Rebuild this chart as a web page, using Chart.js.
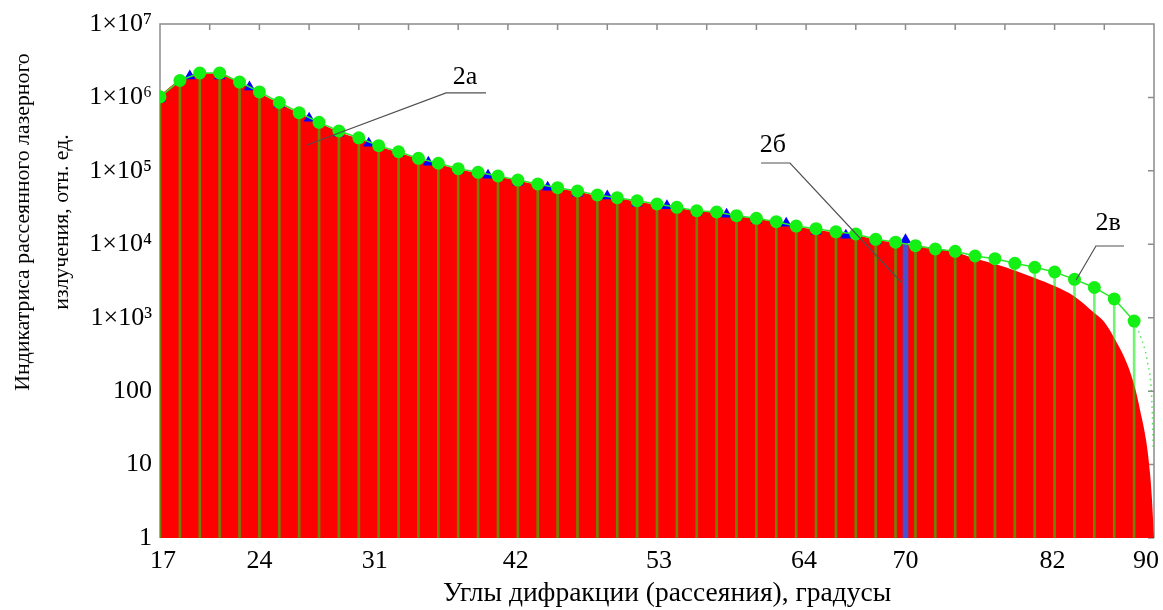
<!DOCTYPE html>
<html lang="ru">
<head>
<meta charset="utf-8">
<title>Индикатриса рассеянного лазерного излучения</title>
<script src="https://cdn.jsdelivr.net/npm/chart.js@4.4.1/dist/chart.umd.min.js"></script>
<style>
  html, body { margin: 0; padding: 0; background: #fff; }
  #wrap { width: 1163px; height: 610px; }
</style>
</head>
<body>
<div id="wrap"><canvas id="chart" width="1163" height="610"></canvas></div>
<script>
// Ось X — номер отсчёта 0..50, подписи углов стоят там же, где на исходном рисунке
let tickPos = [0.15, 5, 10.8, 17.9, 25.1, 32.4, 37.5, 44.9, 49.6]
let tickLabels = ['17', '24', '31', '42', '53', '64', '70', '82', '90']

let yTicks = [1, 10, 100, 1e3, 1e4, 1e5, 1e6, 1e7]
let yLabels = ['1', '10', '100', '1×10³', '1×10⁴', '1×10⁵', '1×10⁶', '1×10⁷']

// кривая 2в — зелёные точки (отсчёты 0..49)
let greenY = [1020000, 1700000, 2150000, 2150000, 1620000, 1190000, 853000, 619000, 458000, 349000,
  282000, 220000, 182000, 148000, 127000, 107000, 95500, 85100, 75000, 66200,
  59000, 53200, 46900, 43100, 39200, 35400, 31900, 28600, 27500, 24500,
  22600, 20300, 17700, 16300, 14800, 13800, 11700, 10700, 9570, 8630,
  8020, 6920, 6370, 5510, 4860, 4190, 3330, 2580, 1800, 900]

// пунктирный хвост кривой 2в
let tailX = [49, 49.35, 49.65, 49.9, 49.96]
let tailY = [900, 530, 266, 65, 15.8]

// синие треугольники (шаг 1.5 отсчёта)
let blueY = [950000, 1960000, 1960000, 1390000, 809000, 522000, 326000, 238000, 174000, 131000,
  102000, 87300, 70100, 60000, 49700, 45300, 36300, 33600, 27400, 25700,
  21300, 19400, 15100, 13300, 11100, 11500]

// линия 2б
let barX = 37.5
let barY = 11000

// красная область 2а
let redX = [0, 1, 2, 3, 4, 5, 6, 7, 8, 9, 10, 11, 12, 13, 14, 15, 16, 17, 18, 19,
  20, 21, 22, 23, 24, 25, 26, 27, 28, 29, 30, 31, 32, 33, 34, 35, 36, 37, 38, 39,
  40, 41, 42, 43, 44, 45, 46, 47, 47.5, 48, 48.5, 48.8, 49.1, 49.3, 49.6, 49.8, 49.9, 50]
let redY = [1070000, 1740000, 2140000, 2140000, 1580000, 1150000, 832000, 603000, 447000, 339000,
  275000, 214000, 178000, 145000, 123000, 105000, 93300, 83200, 74100, 64600,
  57500, 52500, 45700, 42700, 38000, 34700, 31600, 28200, 26900, 24000,
  22400, 20000, 17400, 15800, 14500, 13500, 11500, 10500, 9550, 8910,
  7850, 6400, 5380, 4400, 3480, 2700, 1950, 1160, 875, 530, 292, 182, 97, 55, 21.6, 7.7, 3.3, 1]

// выноски
let noteText = ['2а', '2б', '2в']
let noteX = [15.34, 30.83, 47.69]
let noteY = [1.9e6, 2.25e5, 1.95e4]
let noteLines = [
  [[16.4, 1.15e6], [14.39, 1.15e6], [7.39, 2.25e5]],
  [[30.23, 1.28e5], [31.69, 1.28e5], [37.32, 2970]],
  [[48.49, 9480], [47.08, 9480], [46.08, 3260]]
]

let titleY = ['Индикатриса рассеянного лазерного', 'излучения, отн. ед.']
let titleX = 'Углы дифракции (рассеяния), градусы'

const FONT = 'Liberation Serif, Times New Roman, serif'

const framePlugin = {
  id: 'frame',
  beforeDatasetsDraw(chart) {
    const { ctx, chartArea: a, scales: { x, y } } = chart
    ctx.save()
    ctx.strokeStyle = '#8c8c8c'
    ctx.lineWidth = 1.5
    ctx.beginPath()
    ctx.moveTo(a.left, a.bottom)
    ctx.lineTo(a.left, a.top)
    ctx.lineTo(a.right, a.top)
    ctx.lineTo(a.right, a.bottom)
    for (let v = 2.5; v < 50; v += 2.5) {
      const px = x.getPixelForValue(v)
      ctx.moveTo(px, a.top)
      ctx.lineTo(px, a.top + 6)
    }
    yTicks.forEach(v => {
      const py = y.getPixelForValue(v)
      ctx.moveTo(a.right, py)
      ctx.lineTo(a.right - 6, py)
    })
    ctx.stroke()
    ctx.restore()
  }
}

const notesPlugin = {
  id: 'notes',
  afterDatasetsDraw(chart) {
    const { ctx, scales: { x, y } } = chart
    ctx.save()
    ctx.strokeStyle = '#505050'
    ctx.lineWidth = 1.2
    noteLines.forEach(path => {
      ctx.beginPath()
      path.forEach((p, i) => {
        const px = x.getPixelForValue(p[0]), py = y.getPixelForValue(p[1])
        if (i === 0) ctx.moveTo(px, py)
        else ctx.lineTo(px, py)
      })
      ctx.stroke()
    })
    ctx.fillStyle = '#000'
    ctx.font = '26px ' + FONT
    ctx.textAlign = 'center'
    ctx.textBaseline = 'middle'
    noteText.forEach((t, i) => {
      ctx.fillText(t, x.getPixelForValue(noteX[i]), y.getPixelForValue(noteY[i]))
    })
    ctx.restore()
  }
}

const titlesPlugin = {
  id: 'titles',
  afterDraw(chart) {
    const { ctx, chartArea: a } = chart
    ctx.save()
    ctx.fillStyle = '#000'
    ctx.textAlign = 'center'
    ctx.textBaseline = 'middle'
    ctx.font = '27.5px ' + FONT
    ctx.fillText(titleX, (a.left + a.right) / 2 + 10, 594)
    ctx.font = '21.8px ' + FONT
    ctx.translate(0, 222)
    ctx.rotate(-Math.PI / 2)
    ctx.fillText(titleY[0], 0, 23)
    ctx.fillText(titleY[1], 0, 62)
    ctx.restore()
  }
}

new Chart(document.getElementById('chart'), {
  type: 'line',
  data: {
    datasets: [
      {
        data: greenY.map((v, i) => ({ x: i, y: v })),
        borderColor: 'rgb(40,235,40)',
        borderWidth: 1.5,
        pointRadius: 6.5,
        pointBackgroundColor: 'rgb(20,240,20)',
        pointBorderWidth: 0,
        tension: 0,
        clip: 0
      },
      {
        data: tailX.map((v, i) => ({ x: v, y: tailY[i] })),
        borderColor: 'rgba(40,225,40,0.8)',
        borderWidth: 1.5,
        borderDash: [1.5, 4],
        pointRadius: 0,
        cubicInterpolationMode: 'monotone',
        clip: 0
      },
      {
        data: blueY.map((v, i) => ({ x: i * 1.5, y: v })),
        showLine: false,
        pointStyle: 'triangle',
        pointRadius: 6.5,
        pointBackgroundColor: '#0000ff',
        pointBorderWidth: 0,
        clip: 0
      },
      {
        type: 'bar',
        data: [{ x: barX, y: [1, barY] }],
        backgroundColor: 'rgb(70,80,210)',
        barThickness: 5,
        grouped: false,
        borderWidth: 0
      },
      {
        type: 'bar',
        data: greenY.map((v, i) => ({ x: i, y: [1, v] })),
        backgroundColor: 'rgba(0,235,0,0.55)',
        barThickness: 2,
        grouped: false,
        borderWidth: 0
      },
      {
        data: redX.map((v, i) => ({ x: v, y: redY[i] })),
        fill: 'start',
        backgroundColor: '#ff0000',
        borderWidth: 0,
        pointRadius: 0,
        cubicInterpolationMode: 'monotone',
        clip: 0
      }
    ]
  },
  options: {
    responsive: false,
    animation: false,
    devicePixelRatio: 1,
    layout: { padding: { left: 0, top: 24, right: 9, bottom: 0 } },
    plugins: { legend: { display: false }, tooltip: { enabled: false } },
    scales: {
      x: {
        type: 'linear',
        min: 0,
        max: 50,
        offset: false,
        grid: { display: false, drawTicks: false, offset: false },
        border: { display: false },
        afterBuildTicks: s => { s.ticks = tickPos.map(v => ({ value: v })) },
        afterFit: s => { s.height = 72; s.paddingLeft = 0; s.paddingRight = 0 },
        ticks: {
          autoSkip: false,
          maxRotation: 0,
          padding: 8,
          color: '#000',
          font: { family: FONT, size: 26 },
          callback: (v, i) => tickLabels[i]
        }
      },
      y: {
        type: 'logarithmic',
        min: 1,
        max: 1e7,
        grid: { display: false, drawTicks: false },
        border: { display: false },
        afterBuildTicks: s => { s.ticks = yTicks.map(v => ({ value: v })) },
        afterFit: s => { s.width = 160; s.paddingTop = 0; s.paddingBottom = 0 },
        ticks: {
          autoSkip: false,
          padding: 8,
          color: '#000',
          font: { family: FONT, size: 26 },
          callback: (v, i) => yLabels[i]
        }
      }
    }
  },
  plugins: [framePlugin, notesPlugin, titlesPlugin]
})
</script>
</body>
</html>
